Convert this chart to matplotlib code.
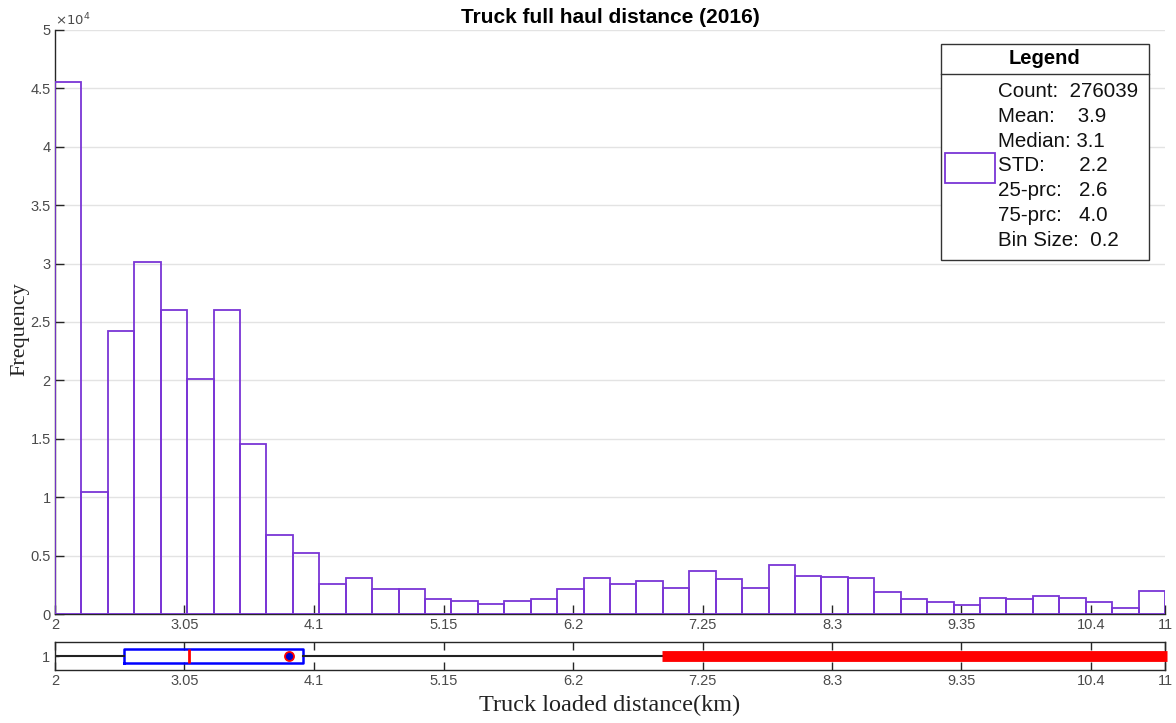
import numpy as np
import matplotlib
matplotlib.use("Agg")
import matplotlib.pyplot as plt
from matplotlib.patches import Rectangle
from matplotlib.lines import Line2D

# ---------------- data ----------------
x_min, x_max, n_bins = 2.0, 11.0, 42
counts = [45550, 10410, 24250, 30160, 26050, 20120, 26050, 14520, 6790, 5190,
          2540, 3080, 2110, 2110, 1250, 1140, 850, 1140, 1250, 2110,
          3050, 2540, 2850, 2220, 3710, 2960, 2220, 4220, 3280, 3190,
          3080, 1910, 1280, 1050, 770, 1370, 1250, 1510, 1370, 1050,
          510, 1990]
xtick_vals = [2, 3.05, 4.1, 5.15, 6.2, 7.25, 8.3, 9.35, 10.4, 11]
xtick_labels = ["2", "3.05", "4.1", "5.15", "6.2", "7.25", "8.3", "9.35", "10.4", "11"]
ytick_vals = [0, 5000, 10000, 15000, 20000, 25000, 30000, 35000, 40000, 45000, 50000]
ytick_labels = ["0", "0.5", "1", "1.5", "2", "2.5", "3", "3.5", "4", "4.5", "5"]

# box plot statistics
box_q1, box_med, box_q3 = 2.56, 3.09, 4.01
box_mean = 3.9
whisker_lo, whisker_hi = 2.0, 6.92
outlier_lo, outlier_hi = 6.92, 11.02

legend_lines = ["Count:  276039", "Mean:    3.9", "Median: 3.1", "STD:      2.2",
                "25-prc:   2.6", "75-prc:   4.0", "Bin Size:  0.2"]

title = "Truck full haul distance (2016)"
xlabel = "Truck loaded distance(km)"
ylabel = "Frequency"

# ---------------- style ----------------
purple = "#7a35d6"
tick_col = "#4a4a4a"
sans = "Liberation Sans"
serif = "Liberation Serif"

W, H = 1176, 723
fig = plt.figure(figsize=(W / 100, H / 100), dpi=100)

def px_axes(l, t, r, b):
    return fig.add_axes([l / W, 1 - b / H, (r - l) / W, (b - t) / H])

ax = px_axes(55, 30, 1165, 614)
edges = np.linspace(x_min, x_max, n_bins + 1)
ax.bar(edges[:-1], counts, width=np.diff(edges), align="edge",
       facecolor="none", edgecolor=purple, linewidth=1.3, zorder=3)
ax.set_xlim(x_min, x_max)
ax.set_ylim(0, 50000)
ax.set_xticks(xtick_vals)
ax.set_xticklabels(xtick_labels)
ax.set_yticks(ytick_vals)
ax.set_yticklabels(ytick_labels)
ax.yaxis.grid(True, color="#e3e3e3", linewidth=1.0, zorder=0)
ax.set_axisbelow(True)
for s in ["top", "right"]:
    ax.spines[s].set_visible(False)
for s in ["left", "bottom"]:
    ax.spines[s].set_color("#262626")
    ax.spines[s].set_linewidth(1.0)
ax.tick_params(direction="in", length=6.5, width=1, colors="#262626",
               labelcolor=tick_col, labelsize=10.5)
ax.tick_params(axis="x", pad=3)
ax.tick_params(axis="y", pad=3)
for lab in ax.get_xticklabels() + ax.get_yticklabels():
    lab.set_fontfamily(sans)
ax.text(0.0, 1.003, r"$\times10^{4}$", transform=ax.transAxes, fontsize=9.5,
        color=tick_col, ha="left", va="bottom", fontfamily=sans)
ax.set_title(title, fontsize=15, fontweight="bold", fontfamily=sans, pad=5)
fig.text(20 / W, 1 - 329 / H, ylabel, rotation=90, fontsize=16, fontfamily=serif,
         ha="center", va="center", color="#222222")

# legend (drawn manually)
def fx(px):
    return (px - 55) / 1110
def fy(py):
    return 1 - (py - 30) / 584

lx0, lx1, ly0, ly1 = fx(940.7), fx(1149), fy(260), fy(44)
ax.add_patch(Rectangle((lx0, ly0), lx1 - lx0, ly1 - ly0, transform=ax.transAxes,
                       facecolor="white", edgecolor="#333333", linewidth=1.0, zorder=10))
ax.add_line(Line2D([lx0, lx1], [fy(74.3), fy(74.3)], transform=ax.transAxes,
                   color="#333333", linewidth=1.0, zorder=11))
ax.text((lx0 + lx1) / 2, fy(59), "Legend", transform=ax.transAxes, ha="center",
        va="center", fontsize=14.5, fontweight="bold", fontfamily=sans, zorder=12)
ax.add_patch(Rectangle((fx(945), fy(182.7)), fx(995) - fx(945), fy(152.7) - fy(182.7),
                       transform=ax.transAxes, facecolor="white", edgecolor=purple,
                       linewidth=1.3, zorder=12))
for i, line in enumerate(legend_lines):
    ax.text(fx(998), fy(91.7 + i * 24.72), line, transform=ax.transAxes, ha="left",
            va="center", fontsize=14.8, fontfamily=sans, color="#111111", zorder=12)

# ---------------- box plot axes ----------------
bx = px_axes(55, 642, 1165, 670)
stats = [dict(q1=box_q1, med=box_med, q3=box_q3, mean=box_mean,
              whislo=whisker_lo, whishi=whisker_hi, fliers=[])]
bx.bxp(stats, positions=[1], widths=0.5, vert=False, showmeans=True,
       showcaps=False, showfliers=False,
       boxprops=dict(color="#0000ff", linewidth=1.8),
       medianprops=dict(color="#ff0000", linewidth=2.0),
       whiskerprops=dict(color="#222222", linewidth=1.5),
       meanprops=dict(marker="o", markerfacecolor="#0000cc", markeredgecolor="#ff0000",
                      markersize=6.5, markeredgewidth=1.3))
bx.plot([outlier_lo, outlier_hi], [1, 1], color="#ff0000", linewidth=7.8,
        solid_capstyle="butt", zorder=4, clip_on=False)
bx.set_xlim(x_min, x_max)
bx.set_ylim(0.5, 1.5)
bx.set_xticks(xtick_vals)
bx.set_xticklabels(xtick_labels)
bx.set_yticks([1])
bx.set_yticklabels(["1"])
for s in bx.spines.values():
    s.set_color("#262626")
    s.set_linewidth(1.0)
bx.tick_params(direction="in", length=6, width=1, colors="#262626",
               labelcolor=tick_col, labelsize=10.5, top=True)
bx.tick_params(axis="x", pad=3)
bx.tick_params(axis="y", length=3)
for lab in bx.get_xticklabels() + bx.get_yticklabels():
    lab.set_fontfamily(sans)
fig.text(610 / W, 1 - 705 / H, xlabel, fontsize=17.5, fontfamily=serif,
         ha="center", va="center", color="#222222")

fig.savefig("out.png", dpi=100)
